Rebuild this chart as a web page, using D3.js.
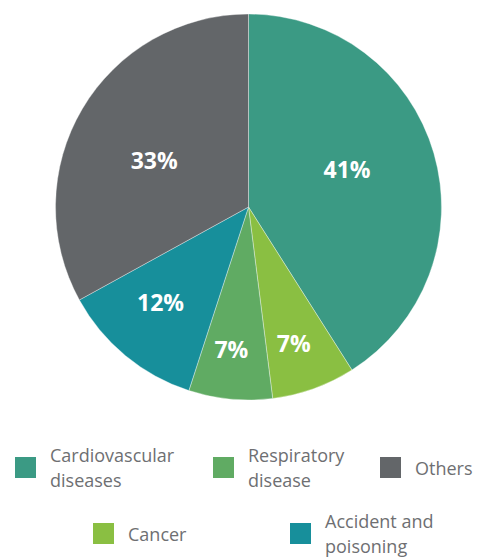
<!DOCTYPE html>
<html>
<head>
<meta charset="utf-8">
<script src="https://cdn.jsdelivr.net/npm/d3@7"></script>
<style>
  html, body { margin: 0; padding: 0; background: #fff; }
  svg { display: block; }
</style>
</head>
<body>
<svg id="chart" width="477" height="559"></svg>
<script>
const categories = ["Cardiovascular diseases", "Cancer", "Respiratory disease", "Accident and poisoning", "Others"];
const values = [41, 7, 7, 12, 33];
const colors = ["#3b9a84", "#8abf42", "#60ab63", "#178f9b", "#636669"];
const legendOrder = ["Cardiovascular diseases", "Respiratory disease", "Others", "Cancer", "Accident and poisoning"];
const legendLines = {
  "Cardiovascular diseases": ["Cardiovascular", "diseases"],
  "Respiratory disease": ["Respiratory", "disease"],
  "Others": ["Others"],
  "Cancer": ["Cancer"],
  "Accident and poisoning": ["Accident and", "poisoning"]
};

const svg = d3.select("#chart");
const cx = 248.5, cy = 207, R = 193;
const data = categories.map((c, i) => ({ name: c, value: values[i], color: colors[i] }));

const pie = d3.pie().value(d => d.value).sort(null);
const arc = d3.arc().innerRadius(0).outerRadius(R);
const arcs = pie(data);

const g = svg.append("g").attr("transform", `translate(${cx},${cy})`);
g.selectAll("path.slice").data(arcs).join("path")
  .attr("class", "slice")
  .attr("d", arc)
  .attr("fill", d => d.data.color)
  .attr("stroke", "rgba(255,255,255,0.45)")
  .attr("stroke-width", 0.8);

// label placement rule: larger slices -> closer to centre
function labelR(v) { return v >= 30 ? R * 0.545 : (v >= 10 ? R * 0.675 : R * 0.745); }
function labelShift(v) { return v >= 30 ? -0.075 : (v >= 10 ? 0.05 : 0.025); }
g.selectAll("text.lbl").data(arcs).join("text")
  .attr("class", "lbl")
  .attr("transform", d => {
    const r = labelR(d.data.value);
    const a = (d.startAngle + d.endAngle) / 2 + labelShift(d.data.value);
    return `translate(${r * Math.sin(a)},${-r * Math.cos(a)})`;
  })
  .attr("text-anchor", "middle")
  .attr("dy", "0.36em")
  .attr("font-family", "'Open Sans', sans-serif")
  .attr("font-weight", "bold")
  .attr("font-size", 23)
  .attr("fill", "#fff")
  .text(d => d.data.value + "%");

// Legend
const colorOf = d3.scaleOrdinal().domain(categories).range(colors);
const legendPos = [
  { x: 15, y: 457 }, { x: 213, y: 457 }, { x: 380, y: 457 },
  { x: 93, y: 523 }, { x: 290, y: 523 }
];
const lg = svg.append("g");
legendOrder.forEach((name, i) => {
  const p = legendPos[i];
  const item = lg.append("g").attr("transform", `translate(${p.x},${p.y})`);
  item.append("rect").attr("width", 21).attr("height", 21).attr("fill", colorOf(name));
  const lines = legendLines[name];
  const t = item.append("text")
    .attr("font-family", "'Open Sans', sans-serif")
    .attr("font-size", 18)
    .attr("fill", "#6e6f72");
  if (lines.length === 1) {
    t.append("tspan").attr("x", 35).attr("y", 18).text(lines[0]);
  } else {
    t.append("tspan").attr("x", 35).attr("y", 5).text(lines[0]);
    t.append("tspan").attr("x", 35).attr("y", 30).text(lines[1]);
  }
});
</script>
</body>
</html>
